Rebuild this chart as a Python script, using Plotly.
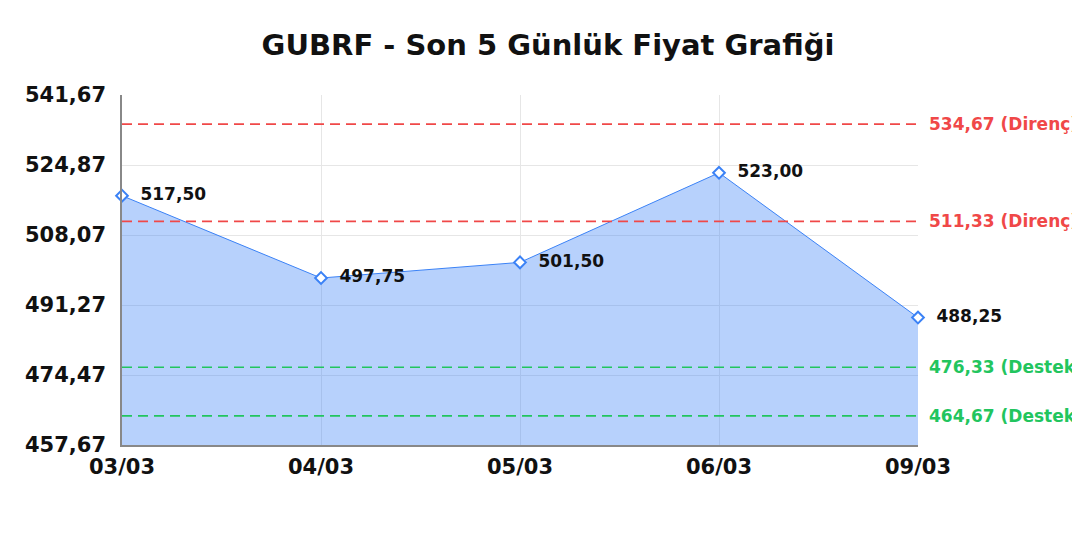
import plotly.graph_objects as go

days = ["03/03", "04/03", "05/03", "06/03", "09/03"]
prices = [517.50, 497.75, 501.50, 523.00, 488.25]
price_labels = ["517,50", "497,75", "501,50", "523,00", "488,25"]

resistance = [534.67, 511.33]
resistance_labels = ["534,67 (Direnç)", "511,33 (Direnç)"]
support = [476.33, 464.67]
support_labels = ["476,33 (Destek)", "464,67 (Destek)"]

y_ticks = [457.67, 474.47, 491.27, 508.07, 524.87, 541.67]
y_tick_labels = ["457,67", "474,47", "491,27", "508,07", "524,87", "541,67"]

FONT = "DejaVu Sans"
RED = "#f04848"
GREEN = "#22c55e"
BLUE = "#3b82f6"

fig = go.Figure()
fig.add_trace(go.Scatter(
    x=days, y=prices, mode="lines+markers+text",
    line=dict(color=BLUE, width=1),
    fill="tozeroy", fillcolor="rgba(59,130,246,0.37)",
    marker=dict(symbol="diamond", size=9, color="white",
                line=dict(color=BLUE, width=2)),
    text=["  " + t for t in price_labels], textposition="middle right",
    textfont=dict(family=FONT, size=17, color="#111111", weight="bold"),
    cliponaxis=False, showlegend=False,
))

# support / resistance lines
for vals, labels, col in [(resistance, resistance_labels, RED), (support, support_labels, GREEN)]:
    for v, lab in zip(vals, labels):
        fig.add_shape(type="line", xref="paper", x0=0, x1=1, y0=v, y1=v,
                      line=dict(color=col, width=1.6, dash="10px,6px"))
        fig.add_annotation(xref="paper", x=1, y=v, text=lab, showarrow=False,
                           xanchor="left", xshift=9,
                           font=dict(family=FONT, size=17, color=col, weight="bold"))

fig.update_layout(
    width=1080, height=540,
    margin=dict(l=114, r=170, t=87, b=103),
    paper_bgcolor="white", plot_bgcolor="white",
    title=dict(text="GUBRF - Son 5 Günlük Fiyat Grafiği", x=0.5, xanchor="center",
               y=0.932, yanchor="middle",
               font=dict(family=FONT, size=29, color="#111111", weight="bold")),
)
fig.update_xaxes(
    type="category", range=[0, 4], showgrid=True, gridcolor="#e6e6e6",
    showline=True, linecolor="#888888", linewidth=1.5,
    tickfont=dict(family=FONT, size=21, color="#111111", weight="bold"),
    ticks="", ticklabelstandoff=2,
)
fig.update_yaxes(
    range=[457.67, 541.67], tickvals=y_ticks, ticktext=y_tick_labels,
    showgrid=True, gridcolor="#e6e6e6", zeroline=False,
    showline=True, linecolor="#888888", linewidth=1.5,
    tickfont=dict(family=FONT, size=21, color="#111111", weight="bold"),
    ticks="", ticklabelstandoff=10,
)

fig.write_html("out.html")
